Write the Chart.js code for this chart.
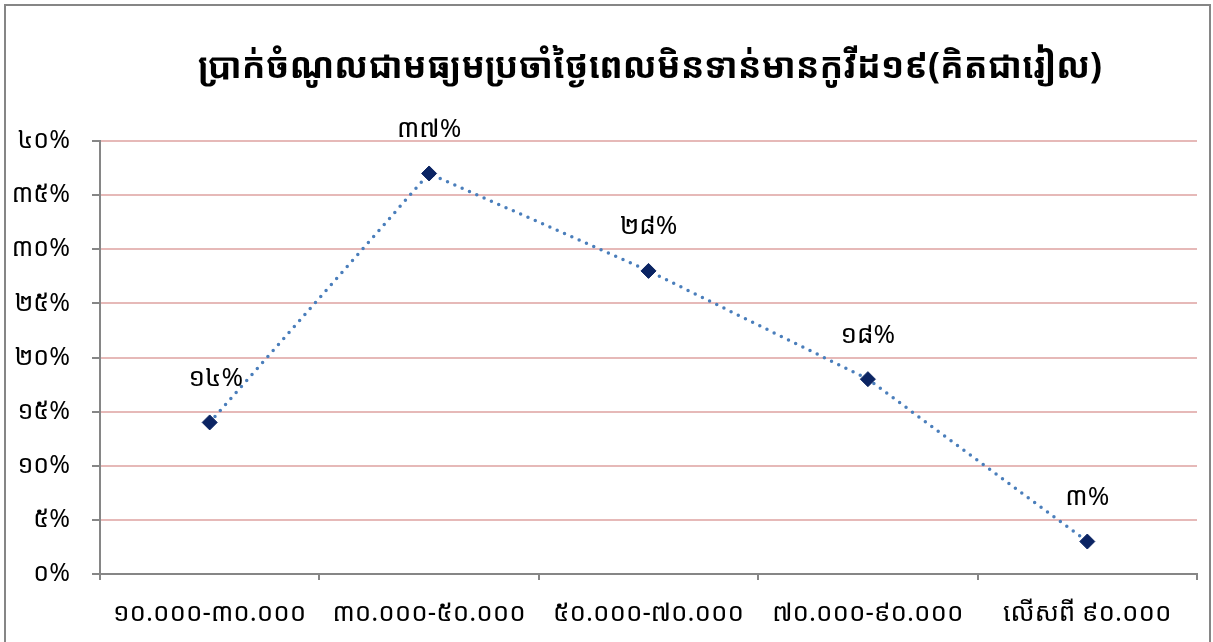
<!DOCTYPE html>
<html>
<head>
<meta charset="utf-8">
<script src="https://cdn.jsdelivr.net/npm/chart.js@4/dist/chart.umd.min.js"></script>
<style>
  html, body { margin: 0; padding: 0; background: #fff; }
  #wrap { width: 1213px; height: 642px; position: relative; }
</style>
</head>
<body>
<div id="wrap"><canvas id="chart" width="1213" height="642"></canvas></div>
<script>
// data
const title = 'ប្រាក់ចំណូលជាមធ្យមប្រចាំថ្ងៃពេលមិនទាន់មានកូវីដ១៩(គិតជារៀល)';
const categories = ['១០.០០០-៣០.០០០', '៣០.០០០-៥០.០០០', '៥០.០០០-៧០.០០០', '៧០.០០០-៩០.០០០', 'លើសពី ៩០.០០០'];
const shares = [14, 37, 28, 18, 3];
const yTicks = [0, 5, 10, 15, 20, 25, 30, 35, 40];

const FONT = "'Khmer OS', 'Khmer OS System', 'Noto Sans Khmer', 'DejaVu Sans', sans-serif";
const khmerDigits = '០១២៣៤៥៦៧៨៩';
function toKhmer(n) {
    return String(n).replace(/[0-9]/g, d => khmerDigits[+d]);
}

// frame, title and value labels
const decor = {
    id: 'decor',
    beforeDraw(chart) {
        const ctx = chart.ctx;
        ctx.save();
        ctx.fillStyle = '#fff';
        ctx.fillRect(0, 0, chart.width, chart.height);
        ctx.strokeStyle = '#868686';
        ctx.lineWidth = 2;
        ctx.strokeRect(5, 5, 1205, 700);
        ctx.restore();
    },
    afterDatasetsDraw(chart) {
        const ctx = chart.ctx;
        const meta = chart.getDatasetMeta(0);
        ctx.save();
        ctx.fillStyle = '#000';
        ctx.font = '26px ' + FONT;
        ctx.textAlign = 'center';
        ctx.textBaseline = 'middle';
        meta.data.forEach((pt, i) => {
            ctx.fillText(toKhmer(shares[i]) + '%', pt.x + (i === 0 ? 6 : 0), pt.y - 44);
        });
        ctx.font = 'bold 35px ' + FONT;
        ctx.fillText(title, 650, 68);
        ctx.restore();
    }
};

new Chart(document.getElementById('chart'), {
    type: 'line',
    data: {
        labels: categories,
        datasets: [{
            data: shares,
            borderColor: '#4A7EBB',
            borderWidth: 3.5,
            borderDash: [0, 8],
            borderCapStyle: 'round',
            tension: 0,
            fill: false,
            pointStyle: 'rectRot',
            pointRadius: 7.5,
            pointBackgroundColor: '#0B2463',
            pointBorderColor: '#0B2463',
            pointBorderWidth: 1
        }]
    },
    options: {
        responsive: false,
        animation: false,
        layout: { padding: { top: 141, right: 16, left: 0, bottom: 0 } },
        plugins: {
            legend: { display: false },
            title: { display: false },
            tooltip: { enabled: false }
        },
        scales: {
            x: {
                offset: true,
                afterFit: s => { s.height = 68; },
                grid: {
                    offset: true,
                    drawOnChartArea: false,
                    tickColor: '#868686',
                    tickLength: 6,
                    lineWidth: 2
                },
                border: { color: '#868686', width: 2 },
                ticks: {
                    color: '#000',
                    padding: 18,
                    maxRotation: 0,
                    autoSkip: false,
                    font: { family: FONT, size: 26 }
                }
            },
            y: {
                min: 0,
                max: 40,
                afterFit: s => { s.width = 100; },
                afterBuildTicks: s => { s.ticks = yTicks.map(v => ({ value: v })); },
                grid: {
                    color: c => c.tick && c.tick.value === 0 ? 'rgba(0,0,0,0)' : '#E6B9B8',
                    lineWidth: 2,
                    tickColor: '#868686',
                    tickLength: 8
                },
                border: { color: '#868686', width: 2 },
                ticks: {
                    color: '#000',
                    padding: 22,
                    font: { family: FONT, size: 25 },
                    callback: v => toKhmer(v) + '%'
                }
            }
        }
    },
    plugins: [decor]
});
</script>
</body>
</html>
